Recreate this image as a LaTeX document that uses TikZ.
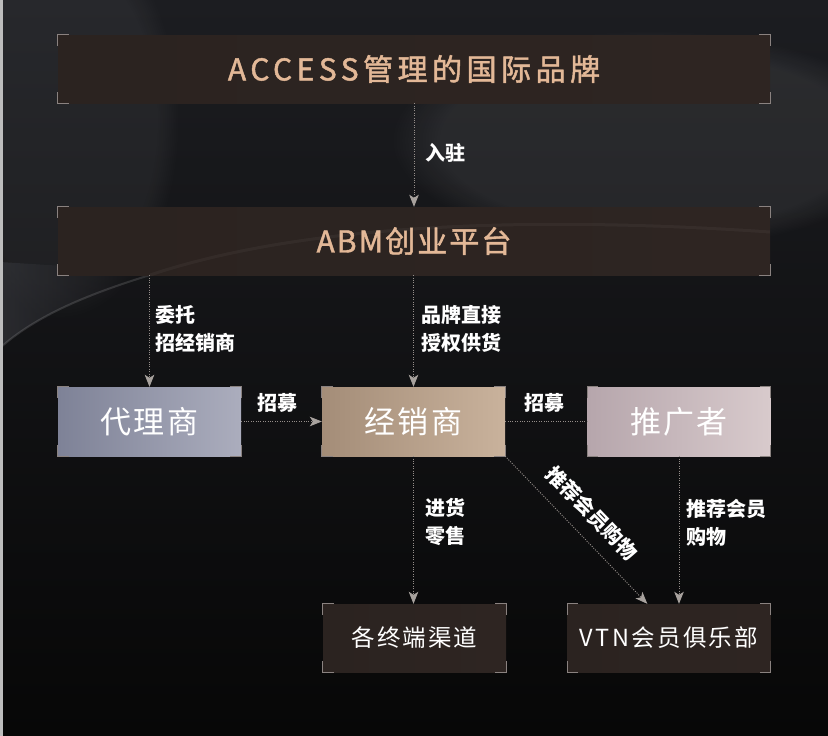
\documentclass[tikz,border=0pt]{standalone}
\usepackage{fontspec}
\setmainfont{Noto Sans CJK SC}
\newfontfamily\titlefontA[LetterSpace=15,FakeBold=1.5]{Noto Sans CJK SC}
\newfontfamily\titlefontB[LetterSpace=7,FakeBold=1.5]{Noto Sans CJK SC}
\newfontfamily\boxfont[LetterSpace=8]{Noto Sans CJK SC}
\newfontfamily\vtnfont[LetterSpace=10]{Noto Sans CJK SC}
\newfontfamily\labfont{Noto Sans CJK SC}
\usetikzlibrary{arrows.meta,calc,fadings}
\definecolor{bgtop}{HTML}{1C1D21}
\definecolor{bgmid}{HTML}{0E0E10}
\definecolor{bgbot}{HTML}{070707}
\definecolor{swoosh}{HTML}{34353A}
\definecolor{boxL}{HTML}{2B2320}
\definecolor{boxM}{HTML}{3A2E29}
\definecolor{boxR}{HTML}{2E2522}
\definecolor{brkc}{HTML}{8A8280}
\definecolor{titlec}{HTML}{E3B897}
\definecolor{connc}{HTML}{958E8A}
\definecolor{tipc}{HTML}{A8A29E}
\definecolor{daiL}{HTML}{7E8297}
\definecolor{daiR}{HTML}{ABADBD}
\definecolor{jingL}{HTML}{A48D78}
\definecolor{jingR}{HTML}{C9B29C}
\definecolor{tuiL}{HTML}{B6A6AC}
\definecolor{tuiR}{HTML}{D8CACC}
\definecolor{stripc}{HTML}{BDBDBD}
\newcommand\boxcorners[1]{%
  \draw[brk] ([yshift=-11pt]#1.north west) -- (#1.north west) -- ([xshift=11pt]#1.north west);
  \draw[brk] ([yshift=-11pt]#1.north east) -- (#1.north east) -- ([xshift=-11pt]#1.north east);
  \draw[brk] ([yshift=11pt]#1.south west) -- (#1.south west) -- ([xshift=11pt]#1.south west);
  \draw[brk] ([yshift=11pt]#1.south east) -- (#1.south east) -- ([xshift=-11pt]#1.south east);
}
\tikzset{
  darkbox/.style={rectangle, inner sep=0pt, minimum height=68pt,
    left color=boxL, middle color=boxM, right color=boxR},
  titletext/.style={text=titlec},
  colbox/.style={rectangle, inner sep=0pt, minimum width=183pt, minimum height=69pt,
    text=white, font=\boxfont\fontsize{31pt}{34pt}\selectfont},
  endtext/.style={text=white, font=\boxfont\fontsize{23.5pt}{26pt}\selectfont},
  brk/.style={draw=brkc, line width=1.3pt},
  conn/.style={draw=connc, line width=0.9pt, dash pattern=on 1pt off 1.4pt},
  arr/.style={conn, -{Stealth[length=12pt, width=9.5pt, inset=3pt, color=tipc]}},
  lab/.style={text=white, font=\labfont\bfseries\fontsize{20pt}{28pt}\selectfont,
    align=left, inner sep=0pt},
}
\begin{document}
\begin{tikzpicture}[x=1pt, y=-1pt]
\path[use as bounding box] (0,0) rectangle (828,736);
% background
\shade[top color=bgtop, middle color=bgmid, bottom color=bgbot] (0,0) rectangle (828,736);
\fill[white, opacity=0.07, path fading=circle with fuzzy edge 20 percent] (650,140) ellipse [x radius=260, y radius=110];
\fill[white, opacity=0.05, path fading=circle with fuzzy edge 20 percent] (60,120) ellipse [x radius=120, y radius=200];
\shade[left color=swoosh, right color=bgmid, opacity=0.7] (0,262) -- (160,272) .. controls (100,290) and (40,312) .. (0,348) -- cycle;
\draw[white, opacity=0.13, line width=2pt] (160,272) .. controls (100,290) and (40,312) .. (0,348);
\fill[stripc] (0,0) rectangle (2.5,736);
% boxes
\node[darkbox, minimum width=712pt, titletext, font=\titlefontA\fontsize{30pt}{32pt}\selectfont] (top) at (414,69) {ACCESS管理的国际品牌};
\node[darkbox, minimum width=712pt, titletext, font=\titlefontB\fontsize{30pt}{32pt}\selectfont] (abm) at (414,241) {ABM创业平台};
\draw[white, opacity=0.04, line width=3pt] (150,275) .. controls (300,225) and (520,215) .. (770,232);
\node[colbox, left color=daiL, right color=daiR] (dai) at (149.5,421.5) {代理商};
\node[colbox, left color=jingL, right color=jingR] (jing) at (413.5,421.5) {经销商};
\node[colbox, left color=tuiL, right color=tuiR] (tui) at (679,421.5) {推广者};
\node[darkbox, minimum width=183pt, endtext] (zhong) at (414.5,638) {各终端渠道};
\node[darkbox, minimum width=203pt, endtext, font=\vtnfont\fontsize{23.5pt}{26pt}\selectfont] (vtn) at (669,638) {VTN会员俱乐部};
\boxcorners{top}
\boxcorners{abm}
\boxcorners{dai}
\boxcorners{jing}
\boxcorners{tui}
\boxcorners{zhong}
\boxcorners{vtn}
% connectors
\draw[arr] (top) -- (abm);
\draw[arr] (abm.south -| dai.north) -- (dai.north);
\draw[arr] (abm.south -| jing.north) -- (jing.north);
\draw[arr] (dai) -- (jing);
\draw[conn] (jing) -- (tui);
\draw[arr] (jing.south) -- (jing.south |- zhong.north);
\draw[arr] (jing.south east) -- ([xshift=80pt]vtn.north west);
\draw[arr] (tui.south) -- (tui.south |- vtn.north);
% labels
\node[lab, anchor=west] (l1) at (425,153) {入驻};
\node[lab, anchor=west] (l2) at (155,329) {委托\\招经销商};
\node[lab, anchor=west] (l3) at (421,329) {品牌直接\\授权供货};
\node[lab] (l4) at (277,403) {招募};
\node[lab] (l5) at (544,403) {招募};
\node[lab, anchor=west] (l6) at (425,522) {进货\\零售};
\node[lab, anchor=west] (l7) at (686,523) {推荐会员\\购物};
\node[lab, rotate=-46] (l8) at (592,513) {推荐会员购物};
\end{tikzpicture}
\end{document}
